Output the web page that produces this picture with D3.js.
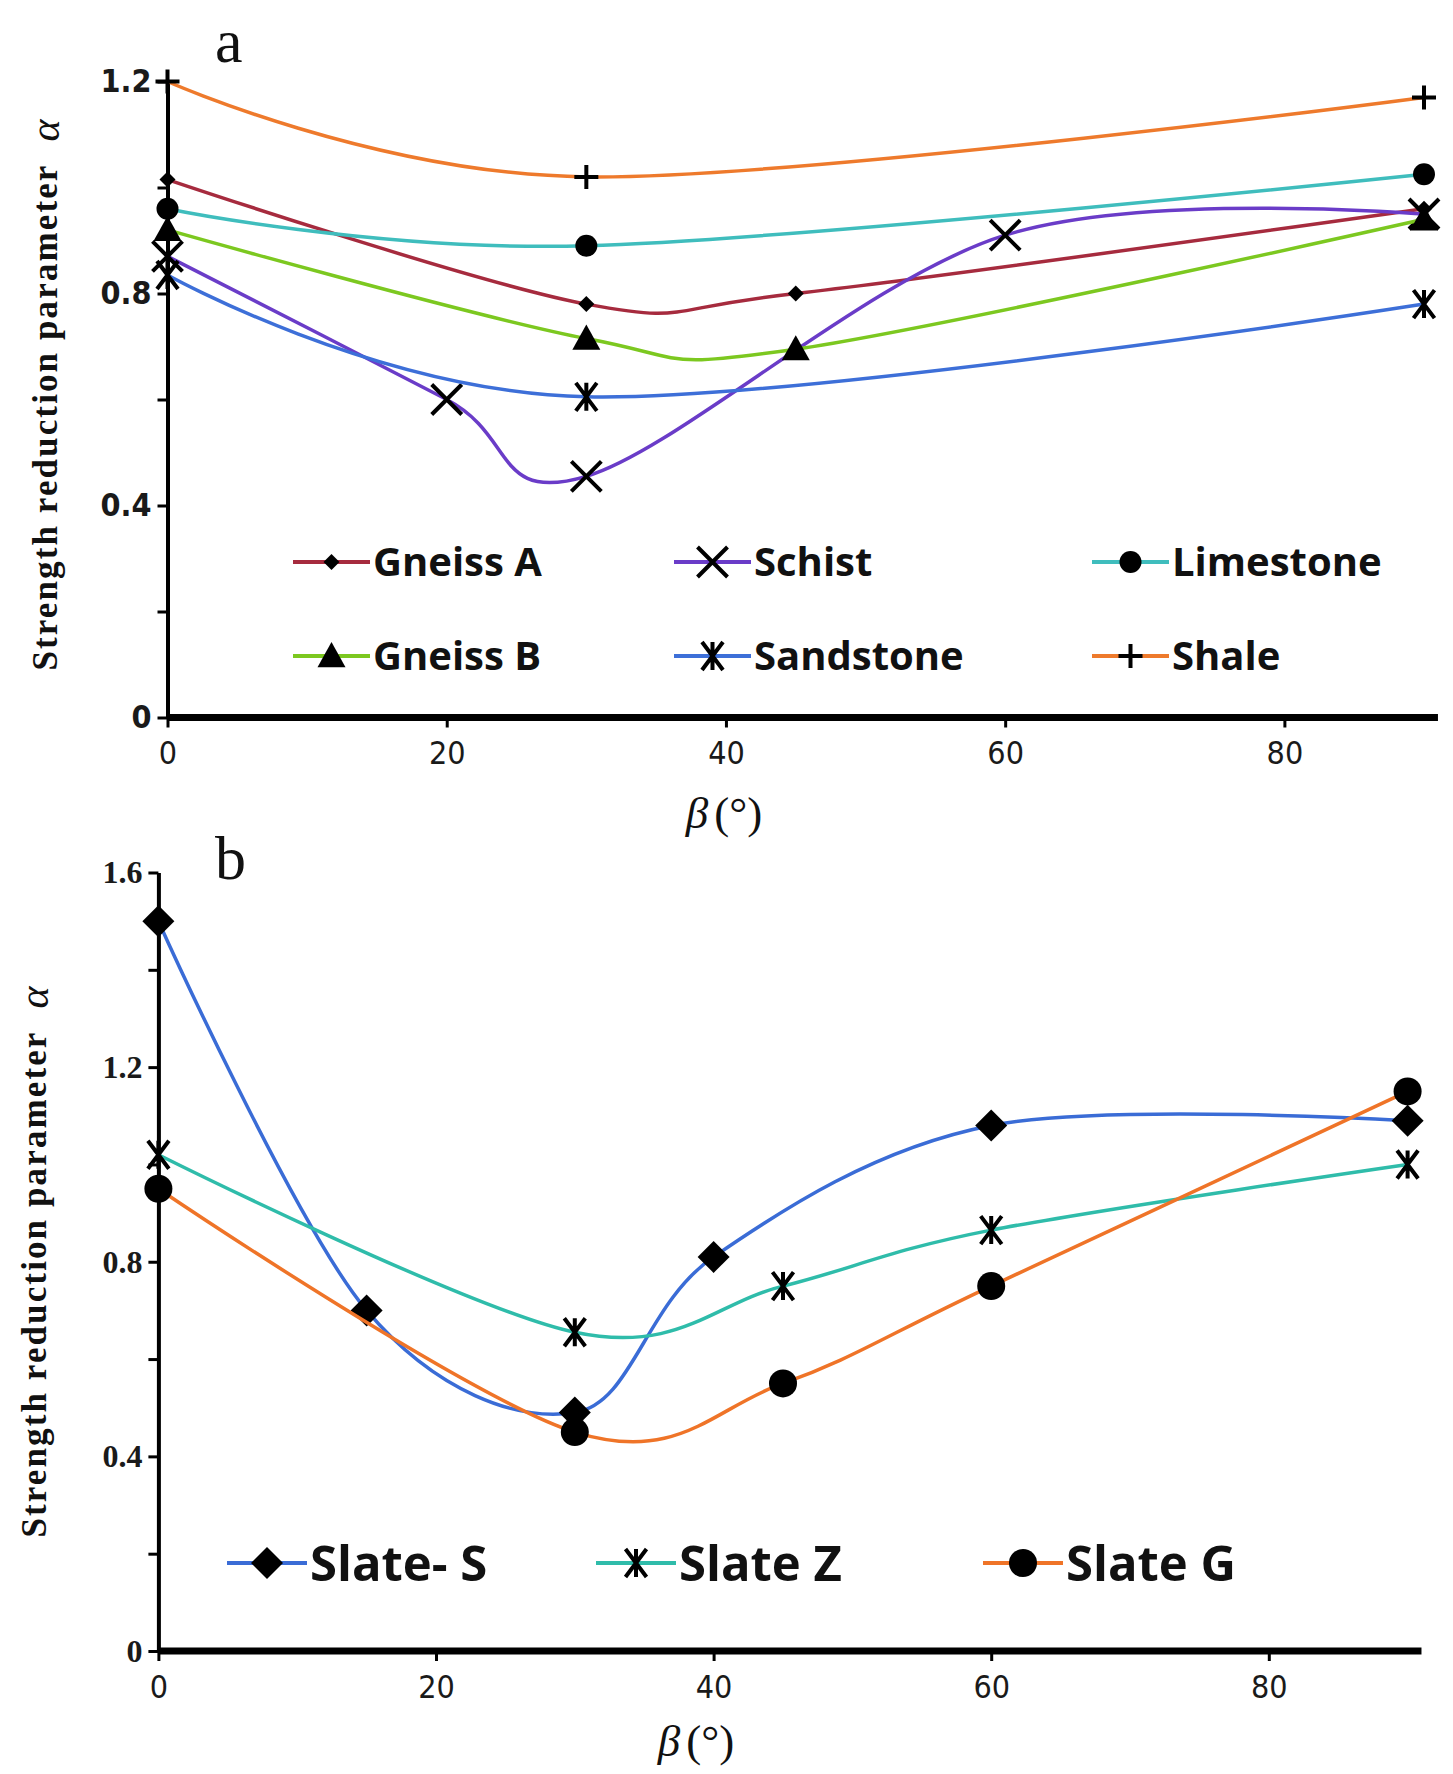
<!DOCTYPE html>
<html>
<head>
<meta charset="utf-8">
<script src="https://cdn.jsdelivr.net/npm/d3@7"></script>
<style>
  body { margin: 0; background: #fff; }
  .tick line { stroke: #000; stroke-width: 3; }
</style>
</head>
<body>
<svg id="chart" width="1453" height="1774"></svg>
<script>
// ---- panel a: rock types ----
const gneissABeta = [0, 30, 45, 90];
const gneissAAlpha = [1.015, 0.78, 0.80, 0.96];
const schistBeta = [0, 20, 30, 60, 90];
const schistAlpha = [0.87, 0.60, 0.455, 0.91, 0.95];
const limestoneBeta = [0, 30, 90];
const limestoneAlpha = [0.96, 0.89, 1.025];
const gneissBBeta = [0, 30, 45, 90];
const gneissBAlpha = [0.92, 0.715, 0.695, 0.94];
const sandstoneBeta = [0, 30, 90];
const sandstoneAlpha = [0.835, 0.605, 0.78];
const shaleBeta = [0, 30, 90];
const shaleAlpha = [1.2, 1.02, 1.17];

// ---- panel b: slates ----
const slateSBeta = [0, 15, 30, 40, 60, 90];
const slateSAlpha = [1.50, 0.70, 0.49, 0.81, 1.08, 1.09];
const slateZBeta = [0, 30, 45, 60, 90];
const slateZAlpha = [1.02, 0.655, 0.75, 0.865, 1.0];
const slateGBeta = [0, 30, 45, 60, 90];
const slateGAlpha = [0.95, 0.45, 0.55, 0.75, 1.15];

const xTicks = [0, 20, 40, 60, 80];
const yTicksA = [0, 0.2, 0.4, 0.6, 0.8, 1.0, 1.2];
const yTicksB = [0, 0.2, 0.4, 0.6, 0.8, 1.0, 1.2, 1.4, 1.6];

const zip = (b, a) => b.map((x, i) => ({ x, y: a[i] }));

const seriesA = [
  { name: 'Gneiss A', color: '#a62b3e', mark: 'diamond', r: 8, pts: zip(gneissABeta, gneissAAlpha) },
  { name: 'Schist', color: '#6a3cc8', mark: 'x', r: 15, pts: zip(schistBeta, schistAlpha) },
  { name: 'Limestone', color: '#3fbdbd', mark: 'circle', r: 11, pts: zip(limestoneBeta, limestoneAlpha) },
  { name: 'Gneiss B', color: '#7cc820', mark: 'triangle', r: 14, pts: zip(gneissBBeta, gneissBAlpha) },
  { name: 'Sandstone', color: '#3d6fd8', mark: 'asterisk', r: 14, pts: zip(sandstoneBeta, sandstoneAlpha) },
  { name: 'Shale', color: '#ee7a2c', mark: 'plus', r: 12, pts: zip(shaleBeta, shaleAlpha) }
];
const seriesB = [
  { name: 'Slate- S', color: '#3a6cd6', mark: 'diamond', r: 16, pts: zip(slateSBeta, slateSAlpha) },
  { name: 'Slate Z', color: '#2fbcaa', mark: 'asterisk', r: 14, pts: zip(slateZBeta, slateZAlpha) },
  { name: 'Slate G', color: '#ef7428', mark: 'circle', r: 14, pts: zip(slateGBeta, slateGAlpha) }
];

const svg = d3.select('#chart');
svg.append('rect').attr('width', 1453).attr('height', 1774).attr('fill', '#fff');

function drawMarker(g, type, r) {
  if (type === 'circle') {
    g.append('circle').attr('r', r).attr('fill', '#000');
  } else if (type === 'diamond') {
    g.append('path').attr('d', `M0,${-r}L${r},0L0,${r}L${-r},0Z`).attr('fill', '#000');
  } else if (type === 'triangle') {
    g.append('path').attr('d', `M0,${-r}L${r},${r * 0.8}L${-r},${r * 0.8}Z`).attr('fill', '#000');
  } else {
    let d;
    if (type === 'x') d = `M${-r},${-r}L${r},${r}M${r},${-r}L${-r},${r}`;
    if (type === 'asterisk') d = `M${-r * 0.75},${-r}L${r * 0.75},${r}M${r * 0.75},${-r}L${-r * 0.75},${r}M0,${-r}V${r}`;
    if (type === 'plus') d = `M${-r},0H${r}M0,${-r}V${r}`;
    g.append('path').attr('d', d).attr('stroke', '#000').attr('stroke-width', 4).attr('fill', 'none');
  }
}

function panel(opt) {
  const { x, y, yTicks, series } = opt;
  const g = svg.append('g');

  // y axis: ticks every 0.2, labels every 0.4
  const yAxis = d3.axisLeft(y)
    .tickValues(yTicks)
    .tickSize(10)
    .tickSizeOuter(0)
    .tickFormat(d => Math.round(d * 10) % 4 === 0 ? (d === 0 ? '0' : d3.format('.1f')(d)) : '');
  const ya = g.append('g').attr('transform', `translate(${x(0)},0)`).call(yAxis);
  ya.select('.domain').attr('stroke', '#000').attr('stroke-width', 4);
  ya.selectAll('text')
    .attr('x', -16)
    .style('font-family', opt.yFont)
    .style('font-size', '32px')
    .style('font-weight', 600)
    .attr('fill', '#1a1a1a');

  // x axis
  const xAxis = d3.axisBottom(x).tickValues(xTicks).tickSize(10).tickSizeOuter(0);
  const xa = g.append('g').attr('transform', `translate(0,${y(0)})`).call(xAxis);
  xa.select('.domain')
    .attr('d', `M${x(0)},0H${x(91)}`)
    .attr('stroke', '#000').attr('stroke-width', 7);
  xa.selectAll('text')
    .attr('y', 24)
    .style('font-family', '"DejaVu Sans Condensed", "Liberation Sans Narrow", sans-serif')
    .style('font-size', '32px')
    .attr('fill', '#1a1a1a');

  // lines then markers
  const line = d3.line().x(d => x(d.x)).y(d => y(d.y)).curve(d3.curveCatmullRom.alpha(0));
  series.forEach(s => {
    g.append('path')
      .datum(s.pts)
      .attr('d', line)
      .attr('fill', 'none')
      .attr('stroke', s.color)
      .attr('stroke-width', 3.5);
    s.pts.forEach(p => {
      const m = g.append('g').attr('transform', `translate(${x(p.x)},${y(p.y)})`);
      drawMarker(m, s.mark, s.r);
    });
  });

  // legend
  opt.legend.forEach((l, i) => {
    const s = series[i];
    const lg = g.append('g').attr('transform', `translate(${l[0]},${l[1]})`);
    lg.append('line')
      .attr('x1', 0).attr('x2', opt.legendLine)
      .attr('stroke', s.color).attr('stroke-width', 4);
    const m = lg.append('g').attr('transform', `translate(${opt.legendLine / 2},0)`);
    drawMarker(m, s.mark, s.r);
    lg.append('text')
      .attr('x', opt.legendLine + 3)
      .attr('dy', '0.36em')
      .style('font-family', '"Open Sans", sans-serif')
      .style('font-weight', 700)
      .style('font-size', opt.legendFont + 'px')
      .attr('fill', '#111')
      .text(s.name);
  });

  // y title
  const yt = g.append('text')
    .attr('transform', `translate(${opt.yTitle[0]},${opt.yTitle[1]}) rotate(-90)`)
    .attr('text-anchor', 'middle')
    .attr('dominant-baseline', 'central')
    .style('font-family', '"Liberation Serif", serif')
    .style('font-size', '35px')
    .attr('fill', '#111');
  yt.append('tspan')
    .style('font-weight', 700)
    .attr('textLength', 505)
    .attr('lengthAdjust', 'spacing')
    .text('Strength reduction parameter');
  yt.append('tspan')
    .attr('dx', 22)
    .style('font-style', 'italic')
    .style('font-size', '42px')
    .text('α');

  // x title
  const xt = g.append('text')
    .attr('x', opt.xTitle[0]).attr('y', opt.xTitle[1])
    .attr('text-anchor', 'middle')
    .style('font-family', '"Liberation Serif", serif')
    .style('font-size', '45px')
    .attr('fill', '#111');
  xt.append('tspan').style('font-style', 'italic').text('β');
  xt.append('tspan').attr('dx', 6).text('(°)');

  // panel letter
  g.append('text')
    .attr('x', opt.letter[0]).attr('y', opt.letter[1])
    .style('font-family', '"Liberation Serif", serif')
    .style('font-size', '62px')
    .attr('fill', '#111')
    .text(opt.letter[2]);
}

panel({
  x: d3.scaleLinear().domain([0, 90]).range([167.5, 1424]),
  y: d3.scaleLinear().domain([0, 1.2]).range([717.5, 81.5]),
  yTicks: yTicksA,
  yFont: '"DejaVu Sans Condensed", "Liberation Sans Narrow", sans-serif',
  series: seriesA,
  legend: [[293, 562], [674, 562], [1092, 562], [293, 656], [674, 656], [1092, 656]],
  legendLine: 77,
  legendFont: 40,
  yTitle: [45, 395],
  xTitle: [724, 828],
  letter: [215, 62, 'a']
});

panel({
  x: d3.scaleLinear().domain([0, 90]).range([158.4, 1407.6]),
  y: d3.scaleLinear().domain([0, 1.6]).range([1651, 872.5]),
  yTicks: yTicksB,
  yFont: '"Liberation Serif", serif',
  series: seriesB,
  legend: [[227, 1563], [596, 1563], [983, 1563]],
  legendLine: 80,
  legendFont: 49,
  yTitle: [34, 1262],
  xTitle: [696, 1756],
  letter: [215, 879, 'b']
});
</script>
</body>
</html>
